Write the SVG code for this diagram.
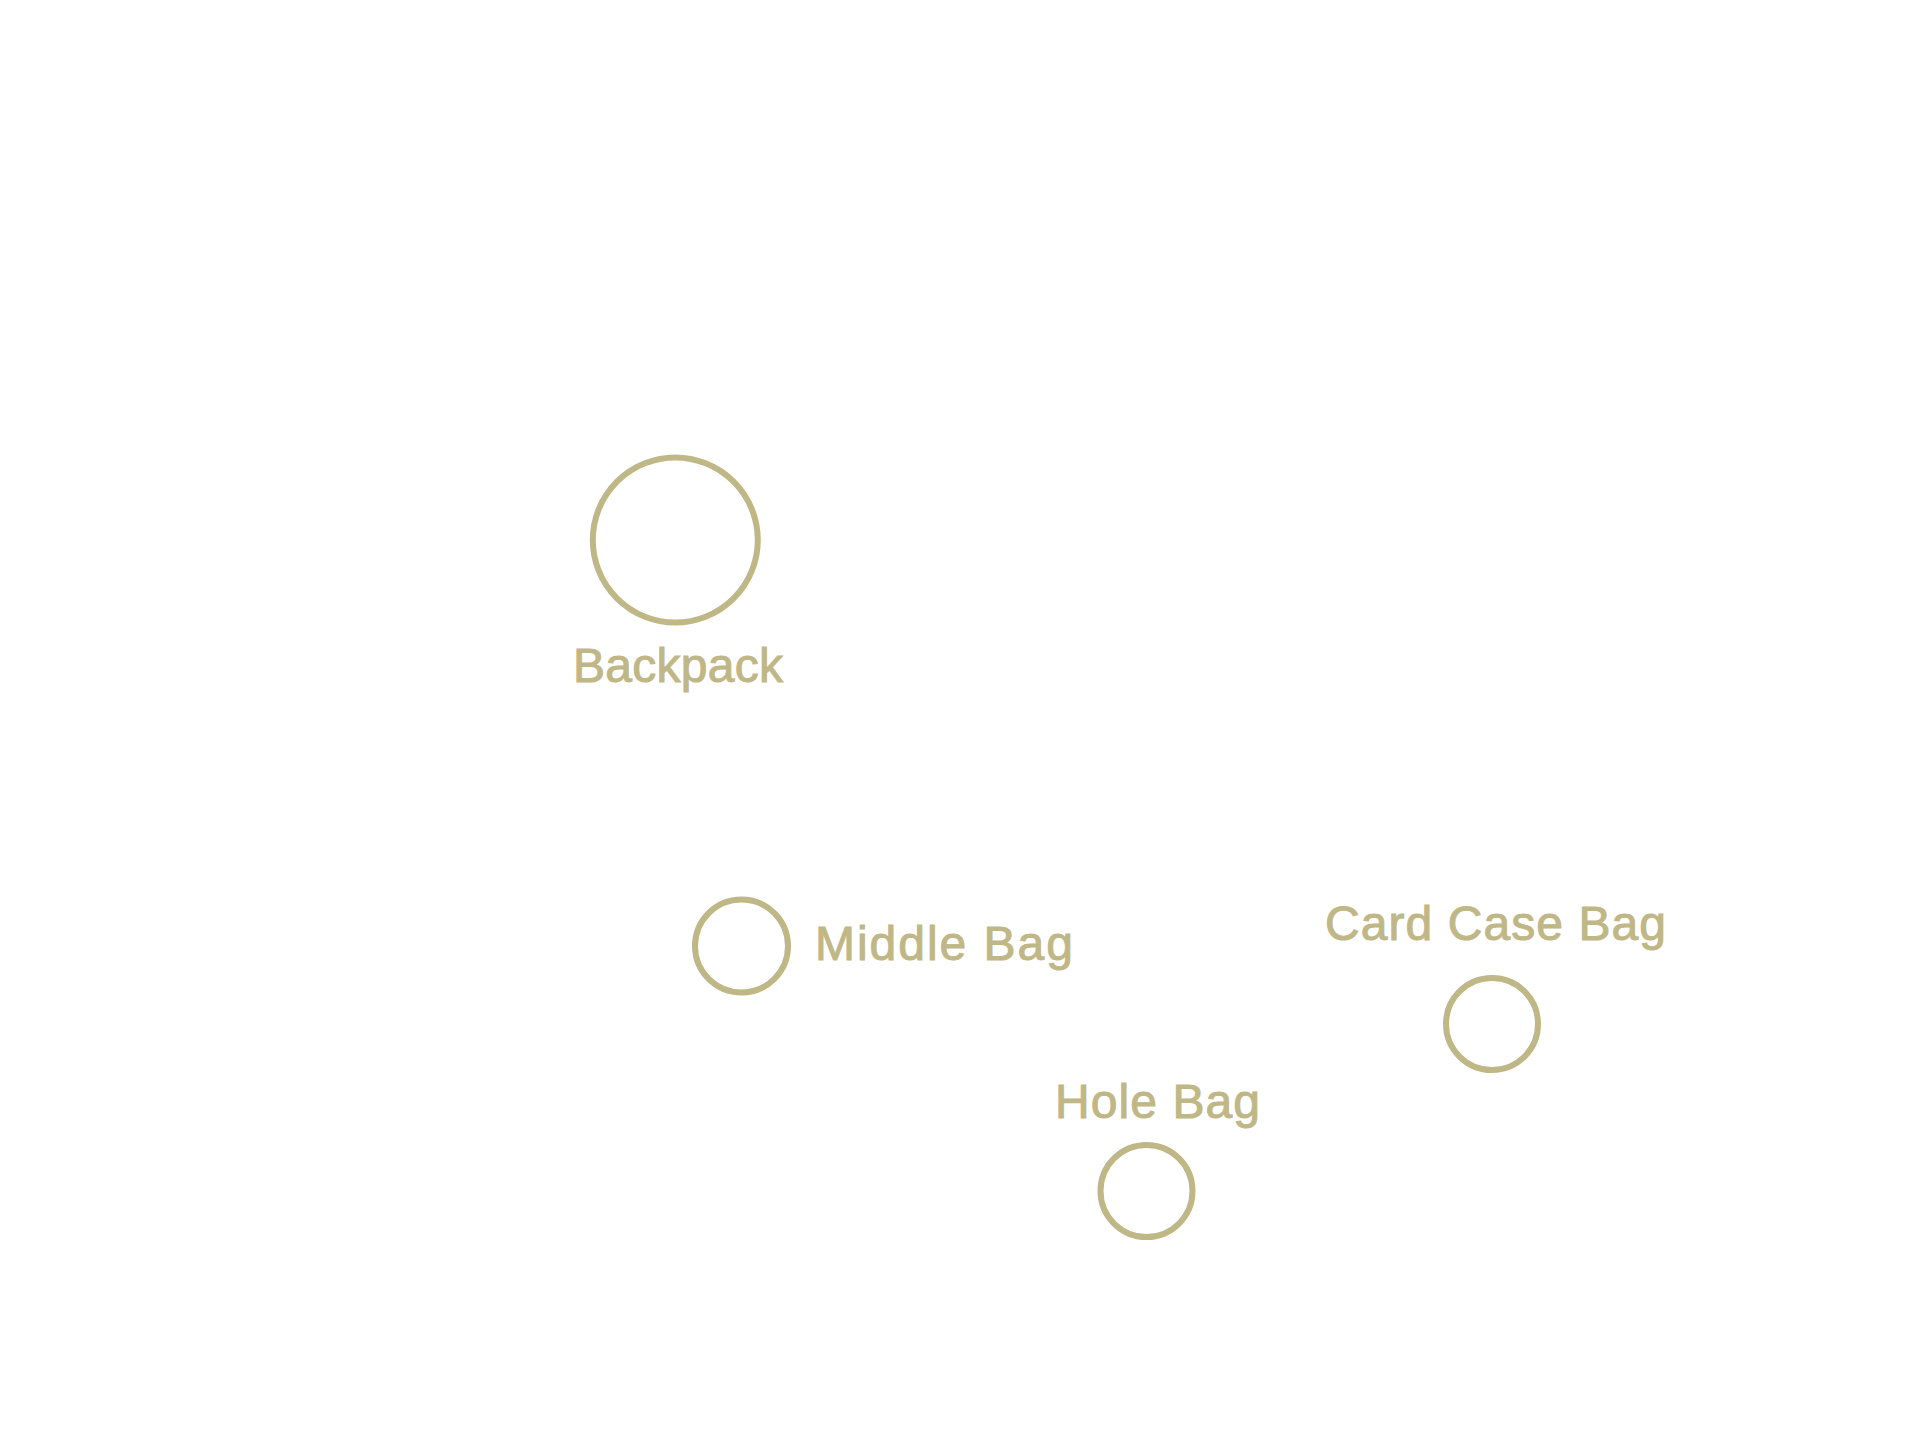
<svg xmlns="http://www.w3.org/2000/svg" width="1920" height="1440" viewBox="0 0 1920 1440">
<style>
.ring{fill:none;stroke:#BFB786;stroke-width:6}
.lbl{fill:#BFB786;stroke:#BFB786;stroke-width:1;font-family:"Liberation Sans",Arial,sans-serif;font-size:48px}
</style>
<rect width="1920" height="1440" fill="#ffffff"/>
<g id="connectors"></g>
<g id="node-backpack">
<circle class="ring" cx="675.3" cy="540" r="82.5"/>
<text class="lbl" x="678" y="682" text-anchor="middle" textLength="210" lengthAdjust="spacing">Backpack</text>
</g>
<g id="node-middle-bag">
<circle class="ring" cx="741.5" cy="946" r="46.5"/>
<text class="lbl" x="815" y="960" textLength="258" lengthAdjust="spacing">Middle Bag</text>
</g>
<g id="node-card-case-bag">
<circle class="ring" cx="1492" cy="1024" r="46"/>
<text class="lbl" x="1495.5" y="940" text-anchor="middle" textLength="341" lengthAdjust="spacing">Card Case Bag</text>
</g>
<g id="node-hole-bag">
<circle class="ring" cx="1146.5" cy="1191" r="46"/>
<text class="lbl" x="1157.5" y="1118" text-anchor="middle" textLength="205" lengthAdjust="spacing">Hole Bag</text>
</g>
</svg>
